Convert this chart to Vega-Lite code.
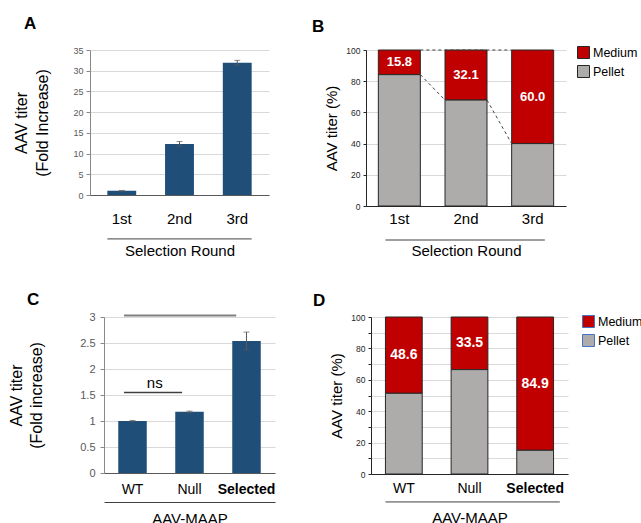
{
  "$schema": "https://vega.github.io/schema/vega-lite/v6.json",
  "background": "white",
  "padding": {"left": 8, "top": 15, "right": 0, "bottom": 0},
  "config": {
    "font": "Liberation Sans",
    "view": {"stroke": null},
    "axis": {"titleFontWeight": "normal", "titleColor": "black", "labelOverlap": false},
    "title": {"fontSize": 17, "fontWeight": "bold", "anchor": "start", "frame": "group", "color": "black", "baseline": "alphabetic"}
  },
  "columns": 1,
  "align": "none",
  "bounds": "full",
  "spacing": 33,
  "resolve": {"scale": {"color": "independent"}, "legend": {"color": "independent"}},
  "concat": [
    {
      "bounds": "full",
      "spacing": 43,
      "resolve": {"scale": {"color": "independent"}, "legend": {"color": "independent"}},
      "hconcat": [
        {
          "width": 179,
          "height": 145,
          "title": {"text": "A", "dx": -66, "offset": 13},
          "data": {"values": [
            {"round": "1st", "value": 1.0, "lo": 0.9, "hi": 1.1},
            {"round": "2nd", "value": 12.3, "lo": 11.8, "hi": 12.9},
            {"round": "3rd", "value": 31.9, "lo": 31.4, "hi": 32.5}
          ]},
          "layer": [
            {
              "mark": {"type": "bar", "color": "#1f4e79"},
              "encoding": {
                "x": {"field": "round", "type": "nominal",
                  "scale": {"domain": ["1st", "2nd", "3rd"], "paddingInner": 0.5, "paddingOuter": 0.3},
                  "axis": {"title": "Selection Round", "titleFontSize": 15, "titlePadding": 17, "labelFontSize": 15, "labelColor": "black", "labelAngle": 0, "ticks": false, "tickSize": 0, "labelPadding": 16, "domainColor": "#595959"}},
                "y": {"field": "value", "type": "quantitative", "scale": {"domain": [0, 35]},
                  "axis": {"values": [0, 5, 10, 15, 20, 25, 30, 35], "tickCount": 8, "labelOverlap": false, "title": ["AAV titer", "(Fold Increase)"], "titleFontSize": 16, "titleLineHeight": 21, "titlePadding": 22, "labelFontSize": 9, "labelColor": "#595959", "tickSize": 4, "tickColor": "#888888", "domainColor": "#888888", "gridColor": "#d9d9d9", "labelPadding": 3}}
              }
            },
            {
              "mark": {"type": "rule", "color": "#595959"},
              "encoding": {"x": {"field": "round", "type": "nominal"}, "y": {"field": "lo", "type": "quantitative"}, "y2": {"field": "hi"}}
            },
            {
              "mark": {"type": "tick", "color": "#595959", "size": 6, "thickness": 1},
              "encoding": {"x": {"field": "round", "type": "nominal"}, "y": {"field": "lo", "type": "quantitative"}}
            },
            {
              "mark": {"type": "tick", "color": "#595959", "size": 6, "thickness": 1},
              "encoding": {"x": {"field": "round", "type": "nominal"}, "y": {"field": "hi", "type": "quantitative"}}
            },
            {
              "data": {"values": [{"from": "1st", "to": "3rd", "y": -10.6}]},
              "mark": {"type": "rule", "color": "#404040", "strokeWidth": 1},
              "encoding": {"x": {"field": "from", "type": "nominal", "bandPosition": 0}, "x2": {"field": "to", "bandPosition": 1}, "y": {"field": "y", "type": "quantitative"}}
            }
          ]
        },
        {
          "width": 200,
          "height": 156,
          "title": {"text": "B", "dx": -54, "offset": 10},
          "data": {"values": [
            {"round": "1st", "part": "Medium", "value": 15.8},
            {"round": "1st", "part": "Pellet", "value": 84.2},
            {"round": "2nd", "part": "Medium", "value": 32.1},
            {"round": "2nd", "part": "Pellet", "value": 67.9},
            {"round": "3rd", "part": "Medium", "value": 60.0},
            {"round": "3rd", "part": "Pellet", "value": 40.0}
          ]},
          "layer": [
            {
              "mark": {"type": "bar", "stroke": "#262626", "strokeWidth": 1},
              "encoding": {
                "x": {"field": "round", "type": "nominal",
                  "scale": {"domain": ["1st", "2nd", "3rd"], "paddingInner": 0.37, "paddingOuter": 0.185},
                  "axis": {"title": "Selection Round", "titleFontSize": 15, "titlePadding": 17, "labelFontSize": 15, "labelColor": "black", "labelAngle": 0, "ticks": false, "tickSize": 0, "labelPadding": 5, "domainColor": "#262626"}},
                "y": {"field": "value", "type": "quantitative", "stack": "zero", "scale": {"domain": [0, 100]},
                  "axis": {"values": [0, 20, 40, 60, 80, 100], "tickCount": 6, "labelOverlap": false, "title": "AAV titer (%)", "titleFontSize": 15, "titlePadding": 6, "labelFontSize": 8.5, "labelColor": "#262626", "tickSize": 3, "tickColor": "#262626", "domainColor": "#262626", "gridColor": "#d9d9d9", "labelPadding": 3}},
                "color": {"field": "part", "type": "nominal",
                  "scale": {"domain": ["Medium", "Pellet"], "range": ["#c00000", "#aeabab"]},
                  "legend": {"orient": "none", "legendX": 211, "legendY": -4, "title": null, "symbolType": "square", "symbolSize": 144, "symbolStrokeColor": "#262626", "symbolStrokeWidth": 1, "symbolOpacity": 1, "labelFontSize": 12.5, "labelColor": "black", "rowPadding": 2, "labelOffset": 3, "padding": 0}},
                "order": {"field": "part", "sort": "descending"}
              }
            },
            {
              "transform": [
                {"stack": "value", "groupby": ["round"], "sort": [{"field": "part", "order": "descending"}], "as": ["v0", "v1"]},
                {"filter": "datum.part == 'Medium'"},
                {"calculate": "(datum.v0 + datum.v1) / 2", "as": "mid"}
              ],
              "mark": {"type": "text", "color": "white", "fontWeight": "bold", "fontSize": 13},
              "encoding": {
                "x": {"field": "round", "type": "nominal"},
                "y": {"field": "mid", "type": "quantitative"},
                "text": {"field": "value", "type": "quantitative", "format": ".1f"}
              }
            },
            {
              "data": {"values": [
                {"from": "1st", "to": "2nd", "a": 84.2, "b": 67.9},
                {"from": "2nd", "to": "3rd", "a": 67.9, "b": 40.0},
                {"from": "1st", "to": "3rd", "a": 100, "b": 100}
              ]},
              "mark": {"type": "rule", "strokeDash": [3, 3], "color": "#404040", "strokeWidth": 1},
              "encoding": {"x": {"field": "from", "type": "nominal", "bandPosition": 1}, "x2": {"field": "to", "bandPosition": 0}, "y": {"field": "a", "type": "quantitative"}, "y2": {"field": "b"}}
            },
            {
              "data": {"values": [{"from": "1st", "to": "3rd", "y": -21.8}]},
              "mark": {"type": "rule", "color": "#404040", "strokeWidth": 1},
              "encoding": {"x": {"field": "from", "type": "nominal", "bandPosition": 0.17}, "x2": {"field": "to", "bandPosition": 0.79}, "y": {"field": "y", "type": "quantitative"}}
            }
          ]
        }
      ]
    },
    {
      "bounds": "full",
      "spacing": 38,
      "resolve": {"scale": {"color": "independent"}, "legend": {"color": "independent"}},
      "hconcat": [
        {
          "bounds": "flush",
          "spacing": 0,
          "resolve": {"scale": {"color": "independent"}, "legend": {"color": "independent"}},
          "hconcat": [
            {
              "width": 14,
              "height": 10,
              "data": {"values": []},
              "mark": {"type": "point", "opacity": 0}
            },
            {
              "width": 171,
              "height": 156,
              "title": {"text": "C", "dx": -77, "offset": 2},
              "resolve": {"axis": {"x": "independent"}},
              "data": {"values": [
                {"sample": "WT", "value": 1.0, "lo": 0.99, "hi": 1.01},
                {"sample": "Null", "value": 1.18, "lo": 1.16, "hi": 1.19},
                {"sample": "Selected", "value": 2.54, "lo": 2.37, "hi": 2.71}
              ]},
              "layer": [
                {
                  "mark": {"type": "bar", "color": "#1f4e79"},
                  "encoding": {
                    "x": {"field": "sample", "type": "nominal",
                      "scale": {"domain": ["WT", "Null", "Selected"], "paddingInner": 0.5, "paddingOuter": 0.25},
                      "axis": {"title": "AAV-MAAP", "titleFontSize": 15, "titlePadding": 15, "labelFontSize": 14, "labelColor": "black", "labelAngle": 0, "labelFontWeight": {"expr": "datum.value == 'Selected' ? 'bold' : 'normal'"}, "ticks": false, "tickSize": 0, "labelPadding": 9, "domainColor": "#595959"}},
                    "y": {"field": "value", "type": "quantitative", "scale": {"domain": [0, 3]},
                      "axis": {"values": [0, 0.5, 1, 1.5, 2, 2.5, 3], "tickCount": 7, "labelOverlap": false, "format": "~g", "title": ["AAV titer", "(Fold increase)"], "titleFontSize": 16, "titleLineHeight": 20, "titlePadding": 35, "labelFontSize": 11, "labelColor": "#595959", "tickSize": 4, "tickColor": "#888888", "domainColor": "#888888", "gridColor": "#d9d9d9", "labelPadding": 5}}
                  }
                },
                {
                  "mark": {"type": "rule", "color": "#595959"},
                  "encoding": {"x": {"field": "sample", "type": "nominal", "axis": null}, "y": {"field": "lo", "type": "quantitative"}, "y2": {"field": "hi"}}
                },
                {
                  "mark": {"type": "tick", "color": "#595959", "size": 6, "thickness": 1},
                  "encoding": {"x": {"field": "sample", "type": "nominal", "axis": null}, "y": {"field": "lo", "type": "quantitative"}}
                },
                {
                  "mark": {"type": "tick", "color": "#595959", "size": 6, "thickness": 1},
                  "encoding": {"x": {"field": "sample", "type": "nominal", "axis": null}, "y": {"field": "hi", "type": "quantitative"}}
                },
                {
                  "data": {"values": [{"from": "WT", "to": "Selected", "y": 3.03}]},
                  "mark": {"type": "rule", "color": "#808080", "strokeWidth": 2},
                  "encoding": {"x": {"field": "from", "type": "nominal", "bandPosition": 0.2, "axis": null}, "x2": {"field": "to", "bandPosition": 0.14}, "y": {"field": "y", "type": "quantitative"}}
                },
                {
                  "data": {"values": [{"from": "WT", "to": "Null", "y": 1.55}]},
                  "mark": {"type": "rule", "color": "#404040", "strokeWidth": 1.5},
                  "encoding": {"x": {"field": "from", "type": "nominal", "bandPosition": 0.2, "axis": null}, "x2": {"field": "to", "bandPosition": 0.24}, "y": {"field": "y", "type": "quantitative"}}
                },
                {
                  "data": {"values": [{"at": "WT", "label": "ns", "y": 1.74}]},
                  "mark": {"type": "text", "color": "black", "fontSize": 15, "dx": 8},
                  "encoding": {"x": {"field": "at", "type": "nominal", "bandPosition": 1, "axis": null}, "y": {"field": "y", "type": "quantitative"}, "text": {"field": "label"}}
                },
                {
                  "mark": {"type": "rule", "opacity": 0},
                  "encoding": {"x": {"field": "sample", "type": "nominal", "axis": {"orient": "bottom", "offset": 29, "labels": false, "ticks": false, "grid": false, "domain": true, "domainColor": "#404040", "title": null}}}
                }
              ]
            }
          ]
        },
        {
          "width": 197,
          "height": 157,
          "title": {"text": "D", "dx": -58, "offset": 3},
          "data": {"values": [
            {"sample": "WT", "part": "Medium", "value": 48.6},
            {"sample": "WT", "part": "Pellet", "value": 51.4},
            {"sample": "Null", "part": "Medium", "value": 33.5},
            {"sample": "Null", "part": "Pellet", "value": 66.5},
            {"sample": "Selected", "part": "Medium", "value": 84.9},
            {"sample": "Selected", "part": "Pellet", "value": 15.1}
          ]},
          "layer": [
            {
              "mark": {"type": "bar", "stroke": "#262626", "strokeWidth": 1},
              "encoding": {
                "x": {"field": "sample", "type": "nominal",
                  "scale": {"domain": ["WT", "Null", "Selected"], "paddingInner": 0.44, "paddingOuter": 0.22},
                  "axis": {"title": "AAV-MAAP", "titleFontSize": 15, "titlePadding": 15, "labelFontSize": 14, "labelColor": "black", "labelAngle": 0, "labelFontWeight": {"expr": "datum.value == 'Selected' ? 'bold' : 'normal'"}, "ticks": false, "tickSize": 0, "labelPadding": 7, "domainColor": "#262626"}},
                "y": {"field": "value", "type": "quantitative", "stack": "zero", "scale": {"domain": [0, 100]},
                  "axis": {"values": [0, 10, 20, 30, 40, 50, 60, 70, 80, 90, 100], "tickCount": 11, "labelOverlap": false, "labelExpr": "datum.value % 20 === 0 ? datum.label : ''", "title": "AAV titer (%)", "titleFontSize": 15, "titlePadding": 6, "labelFontSize": 8.5, "labelColor": "#262626", "tickSize": 3, "tickColor": "#262626", "domainColor": "#262626", "gridColor": "#d9d9d9", "labelPadding": 3}},
                "color": {"field": "part", "type": "nominal",
                  "scale": {"domain": ["Medium", "Pellet"], "range": ["#c00000", "#aeabab"]},
                  "legend": {"orient": "none", "legendX": 211, "legendY": -2, "title": null, "symbolType": "square", "symbolSize": 144, "symbolStrokeColor": "#4472c4", "symbolStrokeWidth": 1, "symbolOpacity": 1, "labelFontSize": 12.5, "labelColor": "black", "rowPadding": 2, "labelOffset": 3, "padding": 0}},
                "order": {"field": "part", "sort": "descending"}
              }
            },
            {
              "transform": [
                {"stack": "value", "groupby": ["sample"], "sort": [{"field": "part", "order": "descending"}], "as": ["v0", "v1"]},
                {"filter": "datum.part == 'Medium'"},
                {"calculate": "(datum.v0 + datum.v1) / 2", "as": "mid"}
              ],
              "mark": {"type": "text", "color": "white", "fontWeight": "bold", "fontSize": 14},
              "encoding": {
                "x": {"field": "sample", "type": "nominal"},
                "y": {"field": "mid", "type": "quantitative"},
                "text": {"field": "value", "type": "quantitative", "format": ".1f"}
              }
            },
            {
              "data": {"values": [{"from": "WT", "to": "Selected", "y": -17.8}]},
              "mark": {"type": "rule", "color": "#404040", "strokeWidth": 1},
              "encoding": {"x": {"field": "from", "type": "nominal", "bandPosition": 0}, "x2": {"field": "to", "bandPosition": 1.17}, "y": {"field": "y", "type": "quantitative"}}
            }
          ]
        }
      ]
    }
  ]
}
